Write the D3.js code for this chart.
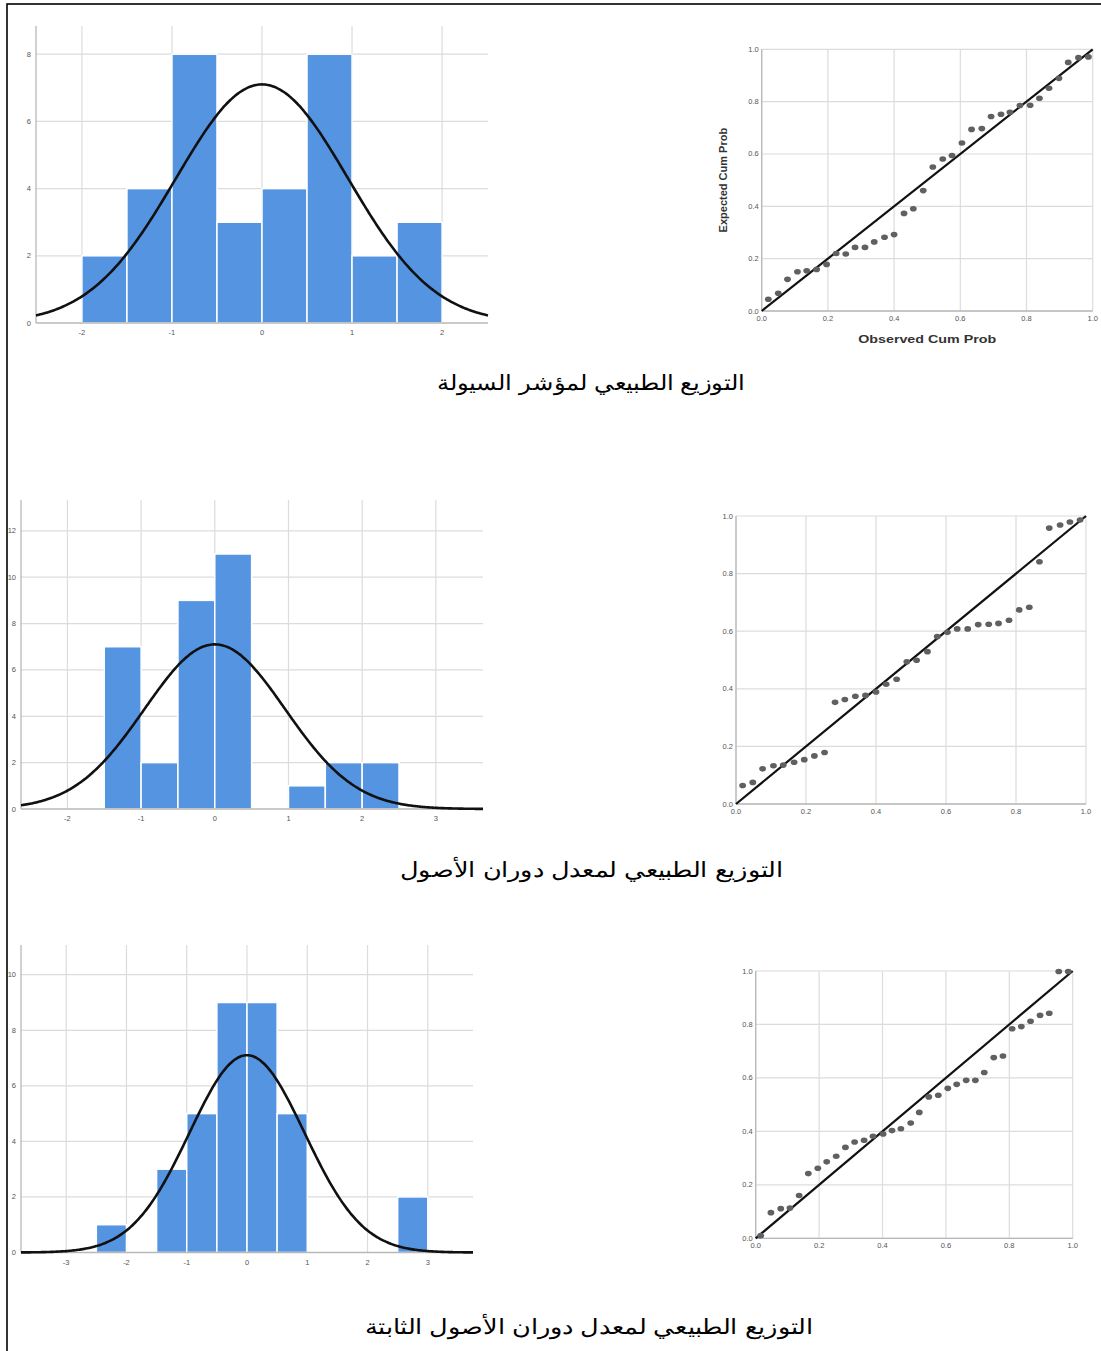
<!DOCTYPE html>
<html><head><meta charset="utf-8">
<script src="https://cdn.jsdelivr.net/npm/d3@7"></script>
<style>body{margin:0;background:#fff}svg{display:block}</style>
</head><body>
<svg id="c" width="1101" height="1351"></svg>
<script>
// ---------- DATA ----------
const captions = [
  "التوزيع الطبيعي لمؤشر السيولة",
  "التوزيع الطبيعي لمعدل دوران الأصول",
  "التوزيع الطبيعي لمعدل دوران الأصول الثابتة"
];
// histogram bins (z-scores), bin width 0.5
const hist1Start = [-2, -1.5, -1, -0.5, 0, 0.5, 1, 1.5];
const hist1Count = [2, 4, 8, 3, 4, 8, 2, 3];
const hist2Start = [-1.5, -1, -0.5, 0, 1, 1.5, 2];
const hist2Count = [7, 2, 9, 11, 1, 2, 2];
const hist3Start = [-2.5, -1.5, -1, -0.5, 0, 0.5, 2.5];
const hist3Count = [1, 3, 5, 9, 9, 5, 2];
const binWidth = 0.5;
const sampleN = 34, curveMean = 0, curveSd = 0.955;
const hist1XTicks = [-2, -1, 0, 1, 2];
const hist2XTicks = [-2, -1, 0, 1, 2, 3];
const hist3XTicks = [-3, -2, -1, 0, 1, 2, 3];
const hist1YTicks = [0, 2, 4, 6, 8];
const hist2YTicks = [0, 2, 4, 6, 8, 10, 12];
const hist3YTicks = [0, 2, 4, 6, 8, 10];
// P-P plots: observed cum prob (x), expected cum prob (y)
const pp1X = [0.020,0.050,0.078,0.108,0.136,0.166,0.196,0.225,0.254,0.282,0.312,0.340,0.371,0.400,0.430,0.458,0.488,0.517,0.547,0.575,0.605,0.634,0.665,0.693,0.723,0.750,0.780,0.811,0.839,0.868,0.898,0.926,0.957,0.987];
const pp1Y = [0.045,0.068,0.121,0.150,0.154,0.159,0.178,0.220,0.218,0.243,0.243,0.264,0.282,0.292,0.373,0.391,0.460,0.550,0.581,0.594,0.642,0.694,0.697,0.743,0.752,0.759,0.785,0.786,0.813,0.851,0.889,0.950,0.968,0.971];
const pp2X = [0.019,0.048,0.076,0.107,0.135,0.166,0.195,0.224,0.253,0.283,0.311,0.341,0.370,0.400,0.429,0.459,0.488,0.516,0.547,0.575,0.604,0.632,0.662,0.692,0.722,0.750,0.780,0.809,0.838,0.867,0.895,0.926,0.954,0.983];
const pp2Y = [0.064,0.075,0.122,0.133,0.135,0.145,0.154,0.167,0.179,0.353,0.363,0.374,0.377,0.389,0.416,0.433,0.494,0.499,0.529,0.581,0.596,0.608,0.608,0.623,0.624,0.627,0.638,0.674,0.683,0.841,0.958,0.969,0.979,0.986];
const pp3X = [0.016,0.048,0.079,0.108,0.137,0.166,0.196,0.224,0.254,0.283,0.312,0.342,0.370,0.402,0.430,0.458,0.489,0.516,0.546,0.576,0.606,0.634,0.664,0.693,0.721,0.751,0.780,0.809,0.838,0.867,0.897,0.926,0.956,0.986];
const pp3Y = [0.010,0.096,0.111,0.113,0.160,0.242,0.262,0.286,0.307,0.340,0.360,0.367,0.382,0.390,0.403,0.410,0.431,0.471,0.529,0.535,0.561,0.576,0.591,0.591,0.620,0.676,0.682,0.784,0.792,0.812,0.834,0.842,0.998,0.998];
const ppTicks = [0, 0.2, 0.4, 0.6, 0.8, 1.0];
const ppXTitle = "Observed Cum Prob", ppYTitle = "Expected Cum Prob";

// ---------- DRAW ----------
const svg = d3.select("#c");
const FONT = "'Liberation Sans', Arial, sans-serif";
const gridC = "#dcdcdc", axisC = "#b8b8b8", tickC = "#555", barC = "#5594e1";

svg.append("rect").attr("x", 7).attr("y", 4).attr("width", 1200).attr("height", 1400)
  .attr("fill", "none").attr("stroke", "#000").attr("stroke-width", 1.6);

function hist(o) {
  const x = d3.scaleLinear().domain(o.xd).range([o.l, o.r]);
  const y = d3.scaleLinear().domain([0, o.ytop]).range([o.b, o.t]);
  const g = svg.append("g");
  g.selectAll(".vg").data(o.xt).join("line")
    .attr("x1", d => x(d)).attr("x2", d => x(d)).attr("y1", o.t).attr("y2", o.b)
    .attr("stroke", gridC).attr("stroke-width", 1.2);
  g.selectAll(".hg").data(o.yt.filter(d => d > 0)).join("line")
    .attr("x1", o.l).attr("x2", o.r).attr("y1", d => y(d)).attr("y2", d => y(d))
    .attr("stroke", gridC).attr("stroke-width", 1.2);
  const bins = o.s.map((s, i) => ({ s, c: o.c[i] }));
  g.selectAll(".bar").data(bins).join("rect")
    .attr("x", d => x(d.s)).attr("width", d => x(d.s + binWidth) - x(d.s))
    .attr("y", d => y(d.c)).attr("height", d => y(0) - y(d.c))
    .attr("fill", barC).attr("stroke", "#fff").attr("stroke-width", 1.5);
  g.append("line").attr("x1", o.l).attr("x2", o.l).attr("y1", o.t).attr("y2", o.b)
    .attr("stroke", axisC).attr("stroke-width", 1.3);
  g.append("line").attr("x1", o.l).attr("x2", o.r).attr("y1", o.b).attr("y2", o.b)
    .attr("stroke", axisC).attr("stroke-width", 1.3);
  const pdf = v => sampleN * binWidth / (curveSd * Math.sqrt(2 * Math.PI)) *
    Math.exp(-0.5 * Math.pow((v - curveMean) / curveSd, 2));
  const xs = d3.range(0, 301).map(i => o.xd[0] + (o.xd[1] - o.xd[0]) * i / 300);
  g.append("path").datum(xs)
    .attr("d", d3.line().x(d => x(d)).y(d => y(pdf(d))).curve(d3.curveBasis))
    .attr("fill", "none").attr("stroke", "#111").attr("stroke-width", 2.6);
  g.selectAll(".xl").data(o.xt).join("text")
    .attr("x", d => x(d)).attr("y", o.b + 12).attr("text-anchor", "middle")
    .attr("font-family", FONT).attr("font-size", 7.5).attr("fill", tickC).text(d => d);
  g.selectAll(".yl").data(o.yt).join("text")
    .attr("x", o.l - 5).attr("y", d => y(d) + 2.5).attr("text-anchor", "end")
    .attr("font-family", FONT).attr("font-size", 7.5).attr("fill", tickC).text(d => d);
}

hist({ s: hist1Start, c: hist1Count, xt: hist1XTicks, yt: hist1YTicks,
  xd: [-2.51, 2.51], ytop: 8.84, l: 36, r: 488, t: 26, b: 323 });
hist({ s: hist2Start, c: hist2Count, xt: hist2XTicks, yt: hist2YTicks,
  xd: [-2.63, 3.64], ytop: 13.33, l: 21, r: 483, t: 500, b: 809 });
hist({ s: hist3Start, c: hist3Count, xt: hist3XTicks, yt: hist3YTicks,
  xd: [-3.75, 3.75], ytop: 11.07, l: 21, r: 473, t: 945, b: 1252.5 });

function pp(o) {
  const x = d3.scaleLinear().domain([0, 1]).range([o.l, o.r]);
  const y = d3.scaleLinear().domain([0, 1]).range([o.b, o.t]);
  const g = svg.append("g");
  g.selectAll(".vg").data(ppTicks).join("line")
    .attr("x1", d => x(d)).attr("x2", d => x(d)).attr("y1", o.t).attr("y2", o.b)
    .attr("stroke", gridC).attr("stroke-width", 1.2);
  g.selectAll(".hg").data(ppTicks).join("line")
    .attr("x1", o.l).attr("x2", o.r).attr("y1", d => y(d)).attr("y2", d => y(d))
    .attr("stroke", gridC).attr("stroke-width", 1.2);
  g.append("line").attr("x1", o.l).attr("x2", o.l).attr("y1", o.t).attr("y2", o.b)
    .attr("stroke", axisC).attr("stroke-width", 1.3);
  g.append("line").attr("x1", o.l).attr("x2", o.r).attr("y1", o.b).attr("y2", o.b)
    .attr("stroke", axisC).attr("stroke-width", 1.3);
  g.append("line").attr("x1", x(0)).attr("y1", y(0)).attr("x2", x(1)).attr("y2", y(1))
    .attr("stroke", "#111").attr("stroke-width", 2.2);
  g.selectAll(".pt").data(o.px.map((v, i) => [v, o.py[i]])).join("ellipse")
    .attr("cx", d => x(d[0])).attr("cy", d => y(d[1])).attr("rx", 3.4).attr("ry", 2.8)
    .attr("fill", "#606060");
  g.selectAll(".xl").data(ppTicks).join("text")
    .attr("x", d => x(d)).attr("y", o.b + 10).attr("text-anchor", "middle")
    .attr("font-family", FONT).attr("font-size", 7.5).attr("fill", tickC).text(d => d.toFixed(1));
  g.selectAll(".yl").data(ppTicks).join("text")
    .attr("x", o.l - 3).attr("y", d => y(d) + 2.5).attr("text-anchor", "end")
    .attr("font-family", FONT).attr("font-size", 7.5).attr("fill", tickC).text(d => d.toFixed(1));
  if (o.titles) {
    g.append("text").attr("x", (o.l + o.r) / 2).attr("y", o.b + 32).attr("text-anchor", "middle")
      .attr("font-family", FONT).attr("font-size", 11).attr("font-weight", "bold").attr("fill", "#333")
      .attr("textLength", 138).attr("lengthAdjust", "spacingAndGlyphs")
      .text(ppXTitle);
    g.append("text").attr("transform", `translate(${o.l - 35},${(o.t + o.b) / 2}) rotate(-90)`)
      .attr("text-anchor", "middle").attr("font-family", FONT).attr("font-size", 11)
      .attr("font-weight", "bold").attr("fill", "#333").text(ppYTitle);
  }
}

pp({ px: pp1X, py: pp1Y, l: 761.7, r: 1092.7, t: 49.3, b: 311, titles: true });
pp({ px: pp2X, py: pp2Y, l: 736, r: 1086, t: 516, b: 804 });
pp({ px: pp3X, py: pp3Y, l: 755.7, r: 1072.7, t: 971, b: 1238.3 });

const capY = [390, 877, 1334];
const capL = [437, 400, 365];
const capR = [745, 783, 813];
svg.selectAll(".cap").data(captions).join("text")
  .attr("x", (d, i) => (capL[i] + capR[i]) / 2).attr("y", (d, i) => capY[i])
  .attr("text-anchor", "middle").attr("direction", "rtl")
  .attr("textLength", (d, i) => capR[i] - capL[i]).attr("lengthAdjust", "spacingAndGlyphs")
  .attr("font-family", FONT).attr("font-size", 21).attr("fill", "#000").text(d => d);
</script>
</body></html>
